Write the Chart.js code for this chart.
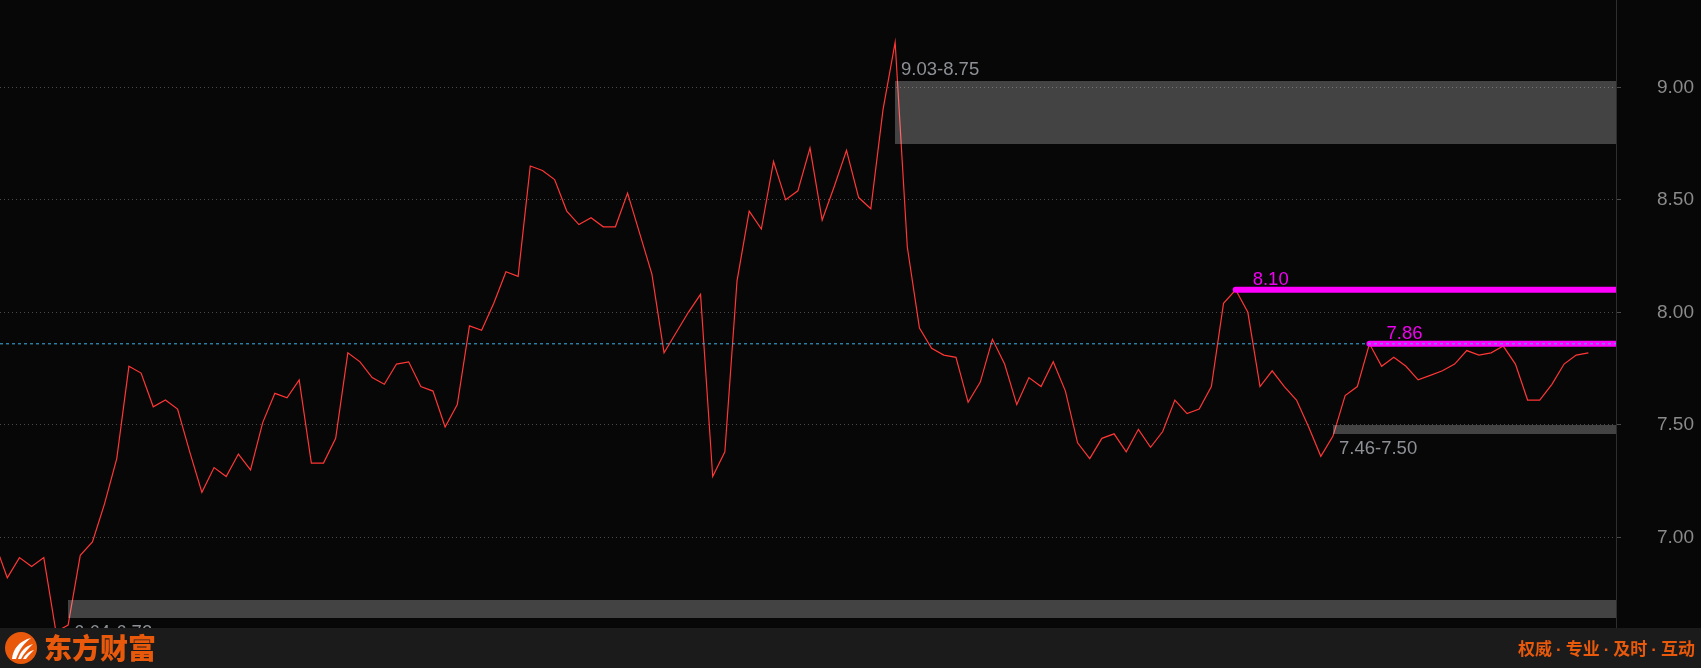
<!DOCTYPE html>
<html>
<head>
<meta charset="utf-8">
<script src="https://cdn.jsdelivr.net/npm/chart.js@4.4.1/dist/chart.umd.min.js"></script>
<style>
html,body{margin:0;padding:0;background:#070707;overflow:hidden;}
#wrap{position:relative;width:1701px;height:668px;background:#070707;}
#c{position:absolute;left:0;top:0;}
#footer{position:absolute;left:0;top:628px;width:1701px;height:40px;background:#1b1b1b;}
#logo{position:absolute;left:4px;top:3px;}
#brand{position:absolute;left:44px;top:2px;font-family:"Noto Sans CJK SC";font-weight:900;font-size:28px;line-height:34px;color:#e8590c;}
#slogan{position:absolute;right:6px;top:8px;font-family:"Noto Sans CJK SC";font-weight:700;font-size:17px;line-height:24px;color:#e8590c;white-space:pre;}
#slogan .d{font-family:"Liberation Sans";font-weight:700;margin:0 4px;}
</style>
</head>
<body>
<div id="wrap">
<canvas id="c" width="1701" height="668"></canvas>
<div id="footer">
  <svg id="logo" width="34" height="34" viewBox="0 0 34 34">
    <circle cx="17" cy="17" r="16" fill="#e8590c"/>
    <path d="M8 28 C9 18 15 10 27 7 C20 12 15 19 12 28 Z" fill="#fff"/>
    <path d="M14 28 C16 21 21 15 29 13 C24 18 20 22 17 28 Z" fill="#fff"/>
    <path d="M19 28 C21 24 25 20 30 19 C27 22 24 25 22 28 Z" fill="#fff"/>
  </svg>
  <div id="brand">东方财富</div>
  <div id="slogan">权威<span class="d">·</span>专业<span class="d">·</span>及时<span class="d">·</span>互动</div>
</div>
</div>
<script>
// ---- data ----
const prices = [
  6.97, 6.82, 6.91, 6.87, 6.91, 6.58, 6.61, 6.92, 6.98, 7.15,
  7.35, 7.76, 7.73, 7.58, 7.61, 7.57, 7.38, 7.20, 7.31, 7.27,
  7.37, 7.30, 7.51, 7.64, 7.62, 7.70, 7.33, 7.33, 7.44, 7.82,
  7.78, 7.71, 7.68, 7.77, 7.78, 7.67, 7.65, 7.49, 7.59, 7.94,
  7.92, 8.04, 8.18, 8.16, 8.65, 8.63, 8.59, 8.45, 8.39, 8.42,
  8.38, 8.38, 8.53, 8.35, 8.17, 7.82, 7.91, 8.00, 8.08, 7.27,
  7.38, 8.14, 8.45, 8.37, 8.67, 8.50, 8.54, 8.73, 8.41, 8.56,
  8.72, 8.51, 8.46, 8.90, 9.20, 8.29, 7.93, 7.84, 7.81, 7.80,
  7.60, 7.69, 7.88, 7.77, 7.59, 7.71, 7.67, 7.78, 7.65, 7.42,
  7.35, 7.44, 7.46, 7.38, 7.48, 7.40, 7.47, 7.61, 7.55, 7.57,
  7.67, 8.04, 8.10, 8.00, 7.67, 7.74, 7.67, 7.61, 7.49, 7.36,
  7.45, 7.63, 7.67, 7.86, 7.76, 7.80, 7.76, 7.70, 7.72, 7.74,
  7.77, 7.83, 7.81, 7.82, 7.85, 7.77, 7.61, 7.61, 7.68, 7.77,
  7.81, 7.82
];
const yTicks = [7.00, 7.50, 8.00, 8.50, 9.00];
const zoneFrom = [9.03, 7.46, 6.64];
const zoneTo = [8.75, 7.50, 6.72];
const zoneStart = [74, 110, 6];
const levelValues = [8.10, 7.86];
const levelStart = [102, 113];
const lastPrice = 7.86;

// ---- view / styles ----
const X_MIN = 0.4, X_MAX = 133.27;
const Y_MAX = 9.388, Y_MIN = 6.597;
const zoneLabelAbove = [true, false, false];
const MAGENTA = '#ff00ff';

const pricePts = prices.map((v, i) => ({x: i, y: v}));
const levelSets = levelValues.map((v, k) => ({
  data: [{x: levelStart[k], y: v}, {x: X_MAX, y: v}],
  borderColor: MAGENTA, borderWidth: 6, borderCapStyle: 'round',
  pointRadius: 0, clip: 0
}));

const overlay = {
  id: 'overlay',
  afterDatasetsDraw(chart) {
    const {ctx, chartArea: a, scales: {x, y}} = chart;
    ctx.save();
    zoneFrom.forEach((f, k) => {
      const hi = Math.max(f, zoneTo[k]), lo = Math.min(f, zoneTo[k]);
      const x0 = Math.round(x.getPixelForValue(zoneStart[k]));
      const yT = Math.round(y.getPixelForValue(hi));
      const yB = Math.round(y.getPixelForValue(lo));
      ctx.save();
      ctx.beginPath(); ctx.rect(a.left, a.top, a.right - a.left, a.bottom - a.top); ctx.clip();
      ctx.fillStyle = 'rgba(255,255,255,0.245)';
      ctx.fillRect(x0, yT, a.right - x0, yB - yT);
      ctx.restore();
      ctx.fillStyle = '#8d9196';
      ctx.font = '18.5px "Liberation Sans"';
      ctx.textAlign = 'left';
      ctx.textBaseline = 'alphabetic';
      const txt = f.toFixed(2) + '-' + zoneTo[k].toFixed(2);
      ctx.fillText(txt, x0 + 6, zoneLabelAbove[k] ? yT - 6 : yB + 20);
    });
    levelValues.forEach((v, k) => {
      const x0 = x.getPixelForValue(levelStart[k]);
      const yy = y.getPixelForValue(v);
      ctx.fillStyle = '#f000f0';
      ctx.font = '18.5px "Liberation Sans"';
      ctx.textAlign = 'left';
      ctx.textBaseline = 'alphabetic';
      ctx.fillText(v.toFixed(2), x0 + 17, yy - 5);
    });
    ctx.restore();
  }
};

new Chart(document.getElementById('c'), {
  type: 'line',
  data: {
    datasets: [
      {
        data: [{x: X_MIN, y: lastPrice}, {x: X_MAX, y: lastPrice}],
        borderColor: '#3cb4e6', borderWidth: 1, borderDash: [3, 3],
        pointRadius: 0, clip: 0
      },
      ...levelSets,
      {
        data: pricePts,
        borderColor: '#ff3636', borderWidth: 1.2, pointRadius: 0,
        tension: 0, clip: 0
      }
    ]
  },
  options: {
    responsive: false,
    animation: false,
    events: [],
    layout: {padding: {left: 0, right: 0, top: 0, bottom: 40}},
    plugins: {legend: {display: false}, tooltip: {enabled: false}},
    scales: {
      x: {type: 'linear', display: false, min: X_MIN, max: X_MAX},
      y: {
        type: 'linear', position: 'right', min: Y_MIN, max: Y_MAX,
        afterFit(s) { s.width = 85; s.paddingTop = 0; s.paddingBottom = 0; },
        afterBuildTicks(s) { s.ticks = yTicks.map(v => ({value: v})); },
        ticks: {
          callback: v => Number(v).toFixed(2),
          color: '#8a8a8a',
          font: {family: 'Liberation Sans', size: 19},
          padding: 36,
          crossAlign: 'near'
        },
        grid: {color: '#4a4a4a', lineWidth: 1, tickLength: 5, drawTicks: true, tickColor: '#4a4a4a'},
        border: {display: true, color: '#2e2e2e', width: 1, dash: [1, 3]}
      }
    }
  },
  plugins: [overlay]
});
</script>
</body>
</html>
